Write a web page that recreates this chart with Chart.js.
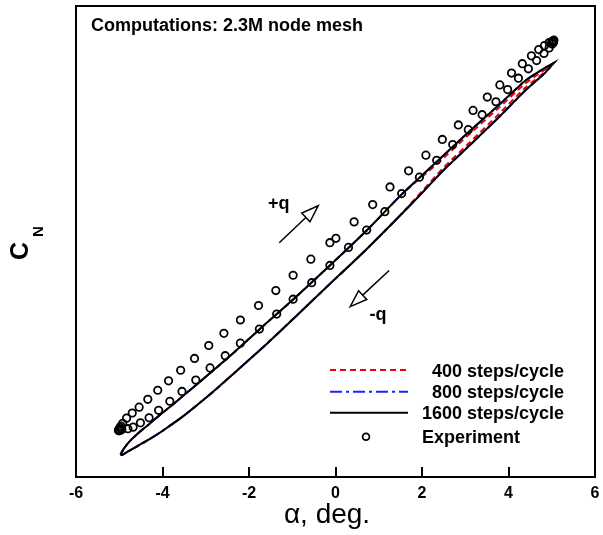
<!DOCTYPE html>
<html>
<head>
<meta charset="utf-8">
<script src="https://cdn.jsdelivr.net/npm/chart.js@4/dist/chart.umd.min.js"></script>
<style>
  body { margin: 0; background: #fff; }
  canvas { display: block; }
</style>
</head>
<body>
<canvas id="cnChart" width="603" height="535"></canvas>
<script>
// x ticks
const alphaTicks = [-6, -4, -2, 0, 2, 4, 6];

// Experiment, two branches of the cycle
const expUpAlpha = [-5.01, -4.98, -5.00, -4.96, -4.92, -4.83, -4.70, -4.54, -4.34, -4.11, -3.86, -3.58, -3.26, -2.93, -2.58, -2.20, -1.78, -1.38, -0.98, -0.57, -0.13, 0.01, 0.43, 0.86, 1.26, 1.69, 2.09, 2.47, 2.84, 3.18, 3.51, 3.80, 4.07, 4.32, 4.53, 4.70, 4.83, 4.94, 5.00, 5.03, 5.05];
const expUpCn = [-0.482, -0.474, -0.478, -0.470, -0.463, -0.450, -0.437, -0.422, -0.402, -0.379, -0.355, -0.328, -0.298, -0.265, -0.234, -0.200, -0.163, -0.125, -0.086, -0.045, -0.003, 0.008, 0.050, 0.094, 0.139, 0.180, 0.220, 0.260, 0.297, 0.334, 0.368, 0.399, 0.429, 0.453, 0.473, 0.489, 0.499, 0.507, 0.509, 0.511, 0.513];
const expDnAlpha = [5.04, 5.01, 4.94, 4.82, 4.65, 4.46, 4.23, 3.98, 3.71, 3.39, 3.07, 2.71, 2.34, 1.94, 1.53, 1.14, 0.72, 0.30, -0.13, -0.55, -0.98, -1.36, -1.76, -2.20, -2.55, -2.90, -3.23, -3.55, -3.83, -4.09, -4.31, -4.51, -4.68, -4.80, -4.94, -4.99, -5.02];
const expDnCn = [0.507, 0.503, 0.493, 0.479, 0.461, 0.440, 0.416, 0.387, 0.356, 0.323, 0.285, 0.247, 0.207, 0.164, 0.122, 0.076, 0.029, -0.015, -0.061, -0.105, -0.147, -0.185, -0.223, -0.259, -0.291, -0.322, -0.353, -0.382, -0.407, -0.430, -0.449, -0.462, -0.473, -0.477, -0.479, -0.482, -0.480];

// Computations, 1600 steps/cycle (800 sits right under it)
const loopUpAlpha = [-4.97, -4.89, -4.75, -4.57, -4.34, -4.06, -3.78, -3.48, -3.13, -2.79, -2.44, -1.76, -0.98, -0.13, 0.72, 1.53, 2.34, 3.11, 3.80, 4.38, 4.84, 5.05];
const loopUpCn = [-0.543, -0.527, -0.508, -0.489, -0.468, -0.442, -0.417, -0.389, -0.357, -0.325, -0.292, -0.224, -0.148, -0.061, 0.028, 0.120, 0.203, 0.282, 0.350, 0.409, 0.442, 0.455];
const loopDnAlpha = [5.05, 4.84, 4.38, 3.80, 3.11, 2.49, 1.95, 1.42, 0.64, -0.13, -0.90, -1.67, -2.28, -2.83, -3.52, -4.02, -4.29, -4.56, -4.80, -4.93, -4.97];
const loopDnCn = [0.455, 0.429, 0.384, 0.319, 0.246, 0.181, 0.118, 0.058, -0.028, -0.108, -0.189, -0.269, -0.329, -0.383, -0.445, -0.484, -0.503, -0.520, -0.535, -0.544, -0.543];

// 400 steps/cycle differs a little near the top end
const loop400UpCn = [-0.543, -0.527, -0.508, -0.489, -0.468, -0.442, -0.417, -0.389, -0.357, -0.325, -0.292, -0.224, -0.148, -0.061, 0.028, 0.120, 0.197, 0.275, 0.343, 0.402, 0.438, 0.455];
const loop400DnCn = [0.455, 0.432, 0.391, 0.327, 0.253, 0.187, 0.122, 0.058, -0.028, -0.108, -0.189, -0.269, -0.329, -0.383, -0.445, -0.484, -0.503, -0.520, -0.535, -0.544, -0.543];

const seriesLabels = ['400 steps/cycle', '800 steps/cycle', '1600 steps/cycle', 'Experiment'];

const pts = (xs, ys) => xs.map((x, i) => ({ x: x, y: ys[i] }));
const FONT = 'Arial, "Liberation Sans", sans-serif';

const decor = {
    id: 'decor',
    afterDraw(chart) {
        const { ctx, chartArea: a, scales: { x, y } } = chart;
        ctx.save();

        // tick marks pointing inward
        ctx.strokeStyle = '#000';
        ctx.lineWidth = 2;
        alphaTicks.forEach(v => {
            const px = Math.round(x.getPixelForValue(v));
            ctx.beginPath();
            ctx.moveTo(px, a.bottom);
            ctx.lineTo(px, a.bottom - 10);
            ctx.stroke();
        });

        // frame
        ctx.lineWidth = 2;
        ctx.strokeRect(a.left, a.top, a.right - a.left, a.bottom - a.top);

        // arrows +q / -q
        const arrow = (x0, y0, x1, y1) => {
            const p0 = [x.getPixelForValue(x0), y.getPixelForValue(y0)];
            const p1 = [x.getPixelForValue(x1), y.getPixelForValue(y1)];
            const ang = Math.atan2(p1[1] - p0[1], p1[0] - p0[0]);
            const len = 17, hw = 6;
            const bx = p1[0] - len * Math.cos(ang), by = p1[1] - len * Math.sin(ang);
            ctx.lineWidth = 1.5;
            ctx.beginPath();
            ctx.moveTo(p0[0], p0[1]);
            ctx.lineTo(bx, by);
            ctx.stroke();
            ctx.beginPath();
            ctx.moveTo(p1[0], p1[1]);
            ctx.lineTo(bx + hw * Math.sin(ang), by - hw * Math.cos(ang));
            ctx.lineTo(bx - hw * Math.sin(ang), by + hw * Math.cos(ang));
            ctx.closePath();
            ctx.stroke();
        };
        arrow(-1.30, -0.003, -0.40, 0.091);
        arrow(1.24, -0.074, 0.34, -0.166);

        ctx.fillStyle = '#000';
        ctx.font = 'bold 18px ' + FONT;
        ctx.textAlign = 'center';
        ctx.textBaseline = 'middle';
        ctx.fillText('+q', x.getPixelForValue(-1.31), y.getPixelForValue(0.096));
        ctx.fillText('-q', x.getPixelForValue(0.98), y.getPixelForValue(-0.187));

        // header note
        ctx.textAlign = 'left';
        ctx.textBaseline = 'alphabetic';
        ctx.font = 'bold 18px ' + FONT;
        ctx.fillText('Computations: 2.3M node mesh', a.left + 15, a.top + 25);

        // legend
        const rows = [370, 391.7, 412.7, 436.7];
        const textX = [432, 432, 422, 422];
        chart.data.datasets.forEach((ds, i) => {
            const ly = rows[i];
            if (ds.showLine) {
                ctx.save();
                ctx.strokeStyle = ds.borderColor;
                ctx.lineWidth = 2;
                ctx.setLineDash(ds.borderDash || []);
                ctx.beginPath();
                ctx.moveTo(330, ly);
                ctx.lineTo(408, ly);
                ctx.stroke();
                ctx.restore();
            } else {
                ctx.lineWidth = ds.borderWidth;
                ctx.beginPath();
                ctx.arc(366, ly, 3.4, 0, Math.PI * 2);
                ctx.stroke();
            }
            ctx.fillText(ds.label, textX[i], ly + 6.5);
        });

        // axis titles
        ctx.font = '28px ' + FONT;
        ctx.textAlign = 'center';
        ctx.fillText('\u03b1, deg.', 327, 523);

        ctx.translate(28, 260);
        ctx.rotate(-Math.PI / 2);
        ctx.textAlign = 'left';
        ctx.font = 'bold 25px ' + FONT;
        ctx.fillText('C', 0, 0);
        ctx.font = 'bold 15px ' + FONT;
        ctx.fillText('N', 23, 15);

        ctx.restore();
    }
};

const ctx = document.getElementById('cnChart').getContext('2d');
const chart = new Chart(ctx, {
    type: 'scatter',
    data: {
        datasets: [{
            label: seriesLabels[0],
            data: pts(loopUpAlpha.concat(loopDnAlpha), loop400UpCn.concat(loop400DnCn)),
            showLine: true,
            borderColor: '#e8000b',
            borderWidth: 2,
            borderDash: [6, 4],
            pointRadius: 0,
            tension: 0.2,
            order: 4
        }, {
            label: seriesLabels[1],
            data: pts(loopUpAlpha.concat(loopDnAlpha), loopUpCn.concat(loopDnCn)),
            showLine: true,
            borderColor: '#1f1fff',
            borderWidth: 2,
            borderDash: [12, 4, 3, 4],
            pointRadius: 0,
            tension: 0.2,
            order: 3
        }, {
            label: seriesLabels[2],
            data: pts(loopUpAlpha.concat(loopDnAlpha), loopUpCn.concat(loopDnCn)),
            showLine: true,
            borderColor: '#000',
            borderWidth: 2,
            pointRadius: 0,
            tension: 0.2,
            order: 2
        }, {
            label: seriesLabels[3],
            data: pts(expUpAlpha.concat(expDnAlpha), expUpCn.concat(expDnCn)),
            showLine: false,
            pointStyle: 'circle',
            pointRadius: 3.7,
            borderWidth: 1.8,
            borderColor: '#000',
            backgroundColor: 'rgba(0,0,0,0)',
            order: 1
        }]
    },
    options: {
        responsive: false,
        animation: false,
        devicePixelRatio: 1,
        layout: { padding: { left: 76, right: 8, top: 6, bottom: 0 } },
        plugins: { legend: { display: false }, tooltip: { enabled: false } },
        scales: {
            x: {
                type: 'linear',
                min: -6,
                max: 6,
                afterFit: s => {
                    s.height = 58;
                    s.paddingLeft = 0;
                    s.paddingRight = 0;
                },
                afterBuildTicks: s => { s.ticks = alphaTicks.map(v => ({ value: v })); },
                ticks: {
                    color: '#000',
                    padding: 7,
                    font: { family: FONT, size: 16, weight: 'bold' }
                },
                grid: { display: false, drawTicks: false },
                border: { display: false }
            },
            y: {
                display: false,
                min: -0.6,
                max: 0.6
            }
        }
    },
    plugins: [decor]
});
</script>
</body>
</html>
